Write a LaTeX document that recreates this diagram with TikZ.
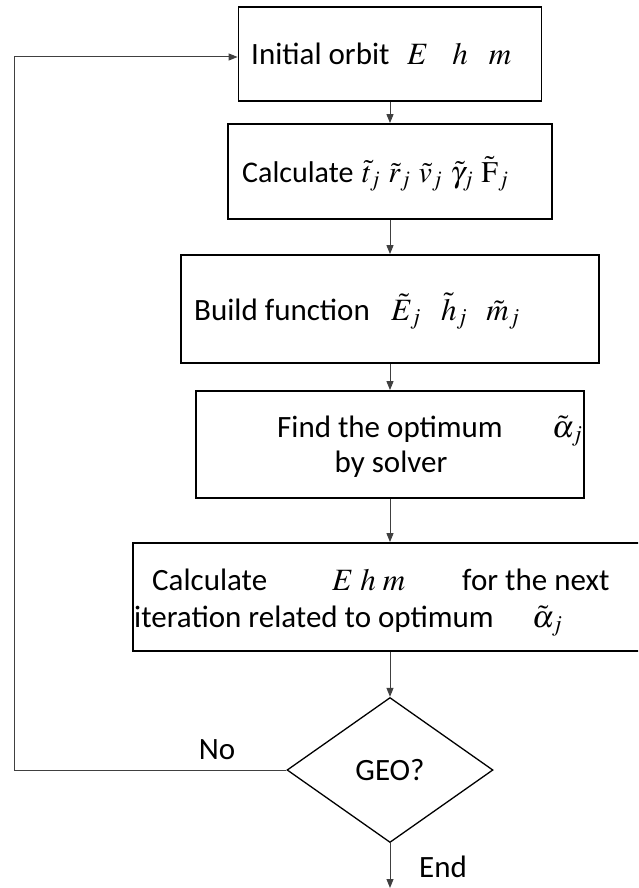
\documentclass[tikz,border=0pt]{standalone}
\usepackage{mathptmx}
\usepackage[no-math]{fontspec}
\setmainfont{Carlito}
\usetikzlibrary{arrows.meta,shapes.geometric}
\begin{document}
\begin{tikzpicture}[x=1pt,y=-1pt,
  box/.style={draw, line width=1.8pt, inner sep=0pt},
  conn/.style={line width=1pt, draw=black!75, -{Triangle[length=9pt,width=7pt]}},
  lbl/.style={inner sep=0pt, font=\fontsize{31}{37}\selectfont},
  lblsm/.style={inner sep=0pt, font=\fontsize{30}{36}\selectfont}]
\useasboundingbox (0,0) rectangle (638,888);
\clip (0,0) rectangle (638,888);
% boxes
\node[box, minimum width=303pt, minimum height=94pt] (b1) at (390,54) {};
\node[box, minimum width=324pt, minimum height=95pt] (b2) at (390,171.5) {};
\node[box, minimum width=418pt, minimum height=108pt] (b3) at (390,309) {};
\node[box, minimum width=388pt, minimum height=107pt] (b4) at (390,444.5) {};
\node[box, minimum width=514pt, minimum height=108pt] (b5) at (390,597) {};
\node[draw, diamond, line width=1.3pt, minimum width=206pt, minimum height=145pt,
      inner sep=0pt, font=\fontsize{31}{37}\selectfont] (dec) at (390,770) {GEO?};
% texts
\node[lbl, anchor=base west] (t1) at (251,65) {Initial orbit};
\node[lbl, anchor=base west] (m1) at (407,65) {$E\hspace{24pt}h\hspace{21pt}m$};
\node[lblsm, anchor=base west] (t2) at (242,182) {Calculate};
\node[lblsm, anchor=base west] (m2) at (362,182) {$\tilde t_j\hspace{8pt}\tilde r_j\hspace{8pt}\tilde v_j\hspace{8pt}\tilde\gamma_j\hspace{8pt}\tilde{\mathrm F}_j$};
\node[lbl, anchor=base west] (t3) at (194,320) {Build function};
\node[lbl, anchor=base west] (m3) at (391,320) {$\tilde E_j\hspace{20pt}\tilde h_j\hspace{19pt}\tilde m_j$};
\node[lbl, anchor=base west] (t4a) at (277,437) {Find the optimum};
\node[lbl, anchor=base west] (m4) at (552,437) {$\tilde\alpha_j$};
\node[lbl, anchor=base] (t4b) at (391,472) {by solver};
\node[lbl, anchor=base west] (t5a) at (152,590) {Calculate};
\node[lbl, anchor=base west] (m5a) at (332,590) {$E\ h\ m$};
\node[lbl, anchor=base west] (t5b) at (462,590) {for the next};
\node[lbl, anchor=base west] (t5c) at (134,627) {iteration related to optimum};
\node[lbl, anchor=base west] (m5b) at (532,627) {$\tilde\alpha_j$};
\node[lbl] (no) at (217,750) {No};
\node[lbl] (end) at (443,867) {End};
% connectors
\draw[conn] (b1.south) -- (b2.north);
\draw[conn] (b2.south) -- (b3.north);
\draw[conn] (b3.south) -- (b4.north);
\draw[conn] (b4.south) -- (b5.north);
\draw[conn] (b5.south) -- (dec.north);
\coordinate (lc) at (14,770);
\coordinate (lt) at (14,57);
\draw[conn] (dec.west) -- (lc) -- (lt) -- (b1.west |- lt);
\coordinate (endpt) at (390,888);
\draw[conn] (dec.south) -- (endpt);
\end{tikzpicture}
\end{document}
